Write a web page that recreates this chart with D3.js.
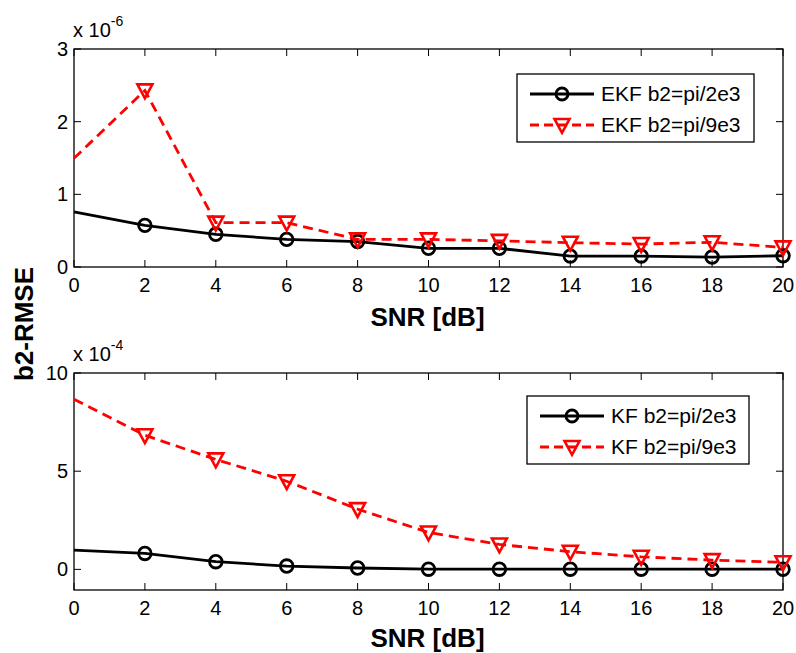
<!DOCTYPE html>
<html>
<head>
<meta charset="utf-8">
<script src="https://d3js.org/d3.v7.min.js"></script>
<style>
  body { margin: 0; background: #fff; }
  svg { font-family: "Liberation Sans", Arial, Helvetica, sans-serif; }
</style>
</head>
<body>
<script>
// SNR values (dB)
var snr = [0, 2, 4, 6, 8, 10, 12, 14, 16, 18, 20];

// top panel, values in units of 1e-6
var ekf2e3 = [0.757, 0.573, 0.45, 0.38, 0.35, 0.257, 0.257, 0.15, 0.15, 0.137, 0.155];
var ekf9e3 = [1.495, 2.43, 0.61, 0.61, 0.38, 0.38, 0.36, 0.334, 0.316, 0.34, 0.27];

// bottom panel, values in units of 1e-4
var kf2e3 = [0.98, 0.81, 0.39, 0.17, 0.07, 0.01, 0.01, 0.01, 0.01, 0.01, 0.01];
var kf9e3 = [8.66, 6.83, 5.6, 4.49, 3.07, 1.88, 1.27, 0.9, 0.64, 0.47, 0.36];

var xTicks = [0, 2, 4, 6, 8, 10, 12, 14, 16, 18, 20];
var topYTicks = [0, 1, 2, 3];
var botYTicks = [0, 5, 10];

var W = 796, H = 653;
var svg = d3.select('body').append('svg')
  .attr('width', W)
  .attr('height', H);

var x = d3.scaleLinear().domain([0, 20]).range([74, 783]);

function panel(opts) {
  var y = d3.scaleLinear().domain(opts.ydom).range([opts.bottom, opts.top]);
  var g = svg.append('g');

  // ticks inside, on all four sides
  var tickLen = 7;
  xTicks.forEach(function(t) {
    g.append('line').attr('x1', x(t)).attr('x2', x(t))
      .attr('y1', opts.bottom).attr('y2', opts.bottom - tickLen)
      .attr('stroke', '#000').attr('stroke-width', 1);
    g.append('line').attr('x1', x(t)).attr('x2', x(t))
      .attr('y1', opts.top).attr('y2', opts.top + tickLen)
      .attr('stroke', '#000').attr('stroke-width', 1);
    g.append('text').attr('x', x(t)).attr('y', opts.bottom + 25)
      .attr('text-anchor', 'middle').attr('font-size', 20).text(t);
  });
  opts.yticks.forEach(function(t) {
    g.append('line').attr('x1', 74).attr('x2', 74 + tickLen)
      .attr('y1', y(t)).attr('y2', y(t))
      .attr('stroke', '#000').attr('stroke-width', 1);
    g.append('line').attr('x1', 783).attr('x2', 783 - tickLen)
      .attr('y1', y(t)).attr('y2', y(t))
      .attr('stroke', '#000').attr('stroke-width', 1);
    g.append('text').attr('x', 68).attr('y', y(t) + 7)
      .attr('text-anchor', 'end').attr('font-size', 20).text(t);
  });

  g.append('rect').attr('x', 74).attr('y', opts.top)
    .attr('width', 783 - 74).attr('height', opts.bottom - opts.top)
    .attr('fill', 'none').attr('stroke', '#000').attr('stroke-width', 1.3);

  // exponent label
  var ex = g.append('text').attr('x', 73).attr('y', opts.top - 12)
    .attr('font-size', 20);
  ex.append('tspan').text('x 10');
  ex.append('tspan').attr('font-size', 14).attr('dy', -11).text(opts.exp);

  // x label
  g.append('text').attr('x', (74 + 783) / 2 - 1).attr('y', opts.labelY)
    .attr('text-anchor', 'middle').attr('font-size', 26).attr('font-weight', 'bold')
    .text('SNR [dB]');

  var line = d3.line().x(function(d, i) { return x(snr[i]); }).y(function(d) { return y(d); });

  var dg = g.append('g');

  // black solid with circles
  dg.append('path').datum(opts.a).attr('d', line)
    .attr('fill', 'none').attr('stroke', '#000').attr('stroke-width', 2.8);
  dg.selectAll('circle.m').data(opts.a.slice(1)).enter().append('circle')
    .attr('cx', function(d, i) { return x(snr[i + 1]); })
    .attr('cy', function(d) { return y(d); })
    .attr('r', 6.3).attr('fill', 'none').attr('stroke', '#000').attr('stroke-width', 2.8);

  // red dashed with triangles
  dg.append('path').datum(opts.b).attr('d', line)
    .attr('fill', 'none').attr('stroke', '#ff0000').attr('stroke-width', 2.8)
    .attr('stroke-dasharray', '10,6');
  dg.selectAll('path.tri').data(opts.b.slice(1)).enter().append('path')
    .attr('class', 'tri')
    .attr('d', function(d, i) { return tri(x(snr[i + 1]), y(d)); })
    .attr('fill', 'none').attr('stroke', '#ff0000').attr('stroke-width', 2.6);

  // legend
  var L = opts.legend;
  g.append('rect').attr('x', L.x).attr('y', L.y).attr('width', L.w).attr('height', L.h)
    .attr('fill', '#fff').attr('stroke', '#000').attr('stroke-width', 1.3);
  var r1 = L.y + 20, r2 = L.y + 51;
  var lx0 = L.x + 13, lx1 = L.x + 77, lm = (lx0 + lx1) / 2;
  g.append('line').attr('x1', lx0).attr('x2', lx1).attr('y1', r1).attr('y2', r1)
    .attr('stroke', '#000').attr('stroke-width', 2.8);
  g.append('circle').attr('cx', lm).attr('cy', r1).attr('r', 6)
    .attr('fill', 'none').attr('stroke', '#000').attr('stroke-width', 2.8);
  g.append('line').attr('x1', lx0).attr('x2', lx1).attr('y1', r2).attr('y2', r2)
    .attr('stroke', '#ff0000').attr('stroke-width', 2.8).attr('stroke-dasharray', '9,5');
  g.append('path').attr('d', tri(lm, r2))
    .attr('fill', 'none').attr('stroke', '#ff0000').attr('stroke-width', 2.6);
  g.append('text').attr('x', L.x + 84).attr('y', r1 + 7).attr('font-size', 21).text(L.labels[0]);
  g.append('text').attr('x', L.x + 84).attr('y', r2 + 7).attr('font-size', 21).text(L.labels[1]);
}

function tri(cx, cy) {
  var s = 7.5;
  return 'M' + (cx - s) + ',' + (cy - s * 0.8) +
    'L' + (cx + s) + ',' + (cy - s * 0.8) +
    'L' + cx + ',' + (cy + s * 1.05) + 'Z';
}

panel({
  top: 49, bottom: 267, ydom: [0, 3], yticks: topYTicks, exp: '-6', labelY: 326,
  a: ekf2e3, b: ekf9e3,
  legend: { x: 517, y: 74, w: 237, h: 68, labels: ['EKF b2=pi/2e3', 'EKF b2=pi/9e3'] }
});

panel({
  top: 373, bottom: 590, ydom: [-1.05, 10], yticks: botYTicks, exp: '-4', labelY: 647,
  a: kf2e3, b: kf9e3,
  legend: { x: 527, y: 396, w: 222, h: 68, labels: ['KF b2=pi/2e3', 'KF b2=pi/9e3'] }
});

// shared y label
svg.append('text')
  .attr('transform', 'translate(33,324) rotate(-90)')
  .attr('text-anchor', 'middle').attr('font-size', 26).attr('font-weight', 'bold')
  .text('b2-RMSE');
</script>
</body>
</html>
